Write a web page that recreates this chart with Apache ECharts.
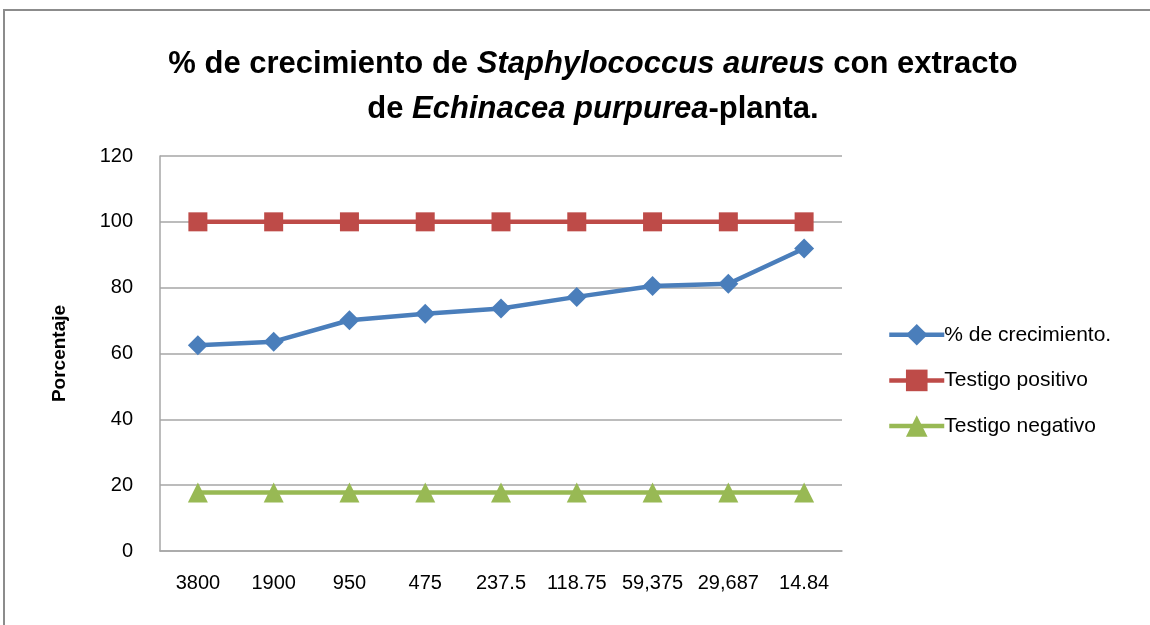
<!DOCTYPE html>
<html>
<head>
<meta charset="utf-8">
<script src="https://cdn.jsdelivr.net/npm/echarts@6/dist/echarts.min.js"></script>
<style>
  html, body { margin: 0; padding: 0; background: #fff; overflow: hidden; }
  #frame { position: absolute; left: 3px; top: 9px; width: 1300px; height: 800px; border: 2px solid #8c8c8c; }
  #main { position: absolute; left: 0; top: 0; width: 1150px; height: 625px; }
</style>
</head>
<body>
<div id="frame"></div>
<div id="main"></div>
<script>
// datos
var categorias = ['3800', '1900', '950', '475', '237.5', '118.75', '59,375', '29,687', '14.84'];
var crecimiento = [62.5, 63.6, 70.1, 72.1, 73.7, 77.2, 80.5, 81.2, 91.9];
var testigoPositivo = [100, 100, 100, 100, 100, 100, 100, 100, 100];
var testigoNegativo = [17.8, 17.8, 17.8, 17.8, 17.8, 17.8, 17.8, 17.8, 17.8];
var yTicks = [0, 20, 40, 60, 80, 100, 120];

var fuente = 'Liberation Sans';
var myChart = echarts.init(document.getElementById('main'));

var option = {
  animation: false,
  title: {
    text: '% de crecimiento de {i|Staphylococcus aureus} con extracto\nde {i|Echinacea purpurea}-planta.',
    left: 588,
    top: 37,
    textAlign: 'center',
    textStyle: {
      fontFamily: fuente,
      fontSize: 31,
      fontWeight: 'bold',
      color: '#000',
      lineHeight: 45,
      rich: {
        i: { fontFamily: fuente, fontSize: 31, fontWeight: 'bold', fontStyle: 'italic', color: '#000', lineHeight: 45 }
      }
    }
  },
  legend: {
    orient: 'vertical',
    left: 882,
    top: 319,
    itemWidth: 55,
    itemHeight: 27,
    itemGap: 24,
    lineStyle: { width: 4.5 },
    textStyle: { fontFamily: fuente, fontSize: 21, color: '#000', padding: [0, 0, 0, -5] },
    data: ['% de crecimiento.', 'Testigo positivo', 'Testigo negativo']
  },
  grid: { left: 160, right: 308, top: 156, bottom: 74 },
  xAxis: {
    type: 'category',
    data: categorias,
    boundaryGap: true,
    axisLine: { lineStyle: { color: '#a6a6a6', width: 1.5 } },
    axisTick: { show: false },
    axisLabel: { interval: 0, fontFamily: fuente, fontSize: 20, color: '#000', margin: 22 }
  },
  yAxis: {
    type: 'value',
    min: yTicks[0],
    max: yTicks[yTicks.length - 1],
    interval: 20,
    name: 'Porcentaje',
    nameLocation: 'middle',
    nameGap: 91,
    nameTextStyle: { fontFamily: fuente, fontSize: 19, fontWeight: 'bold', color: '#000' },
    axisLine: { show: true, lineStyle: { color: '#a6a6a6', width: 1.5 } },
    axisTick: { show: false },
    splitLine: { lineStyle: { color: '#a6a6a6', width: 1.5 } },
    axisLabel: { fontFamily: fuente, fontSize: 20, color: '#000', margin: 27 }
  },
  series: [
    {
      name: '% de crecimiento.',
      type: 'line',
      data: crecimiento,
      symbol: 'diamond',
      symbolSize: 20,
      lineStyle: { width: 4.5, color: '#4a7ebb' },
      itemStyle: { color: '#4a7ebb' }
    },
    {
      name: 'Testigo positivo',
      type: 'line',
      data: testigoPositivo,
      symbol: 'rect',
      symbolSize: 19,
      lineStyle: { width: 4.5, color: '#be4b48' },
      itemStyle: { color: '#be4b48' }
    },
    {
      name: 'Testigo negativo',
      type: 'line',
      data: testigoNegativo,
      symbol: 'triangle',
      symbolSize: 20,
      lineStyle: { width: 4.5, color: '#98b954' },
      itemStyle: { color: '#98b954' }
    }
  ]
};

myChart.setOption(option);
</script>
</body>
</html>
